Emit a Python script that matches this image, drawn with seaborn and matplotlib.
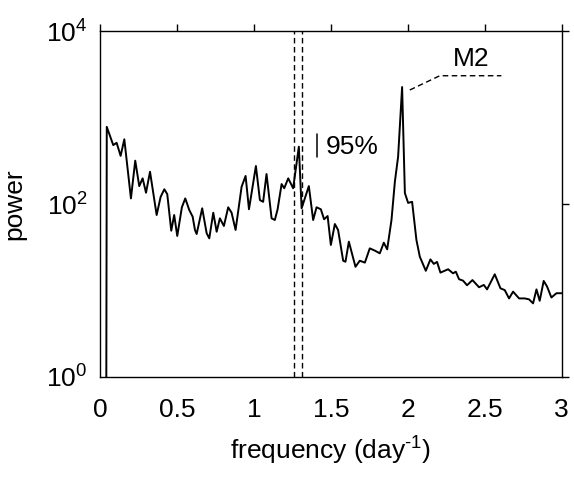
import matplotlib
matplotlib.use("Agg")
import matplotlib.pyplot as plt
import seaborn as sns
import numpy as np
import pandas as pd

# ---- data ----
freq = [0.039, 0.044, 0.086, 0.108, 0.134, 0.158, 0.201, 0.229, 0.255, 0.277,
        0.299, 0.325, 0.368, 0.394, 0.418, 0.437, 0.463, 0.482, 0.502, 0.532,
        0.554, 0.580, 0.602, 0.617, 0.628, 0.664, 0.693, 0.710, 0.736, 0.758,
        0.779, 0.805, 0.833, 0.855, 0.881, 0.920, 0.946, 0.968, 1.013, 1.039,
        1.060, 1.082, 1.115, 1.136, 1.154, 1.180, 1.197, 1.223, 1.255, 1.292,
        1.310, 1.357, 1.385, 1.407, 1.435, 1.456, 1.479, 1.500, 1.526, 1.547,
        1.580, 1.595, 1.617, 1.660, 1.688, 1.721, 1.753, 1.786, 1.818, 1.844,
        1.866, 1.894, 1.916, 1.937, 1.963, 1.981, 2.002, 2.028, 2.056, 2.078,
        2.117, 2.147, 2.169, 2.190, 2.212, 2.262, 2.294, 2.312, 2.333, 2.359,
        2.385, 2.420, 2.463, 2.494, 2.515, 2.565, 2.602, 2.630, 2.658, 2.684,
        2.723, 2.760, 2.788, 2.814, 2.836, 2.857, 2.883, 2.905, 2.933, 2.966,
        2.998]
power = [0.01, 780, 480, 510, 360, 560, 116, 317, 161, 198,
         135, 236, 74.6, 121, 148, 130, 49.1, 74.6, 42.7, 91.6,
         116, 85.3, 71.3, 50.1, 45.0, 89.2, 45.9, 40.1, 79.3, 47.8,
         68.3, 55.7, 91.6, 79.3, 50.1, 158, 211, 86.9, 275, 111,
         106, 222, 68.3, 65.3, 86.9, 170, 152, 198, 152, 460,
         89.2, 161, 65.3, 91.6, 86.9, 66.6, 72.6, 33.6, 58.7, 50.1,
         22.1, 21.5, 36.7, 18.8, 22.1, 21.0, 30.7, 28.9, 26.9, 35.7,
         29.9, 65.3, 181, 352, 2250, 134, 103, 106, 38.4, 24.6,
         16.9, 22.9, 20.3, 21.4, 16.1, 17.6, 15.8, 16.5, 13.5, 13.0,
         11.5, 13.2, 10.9, 11.6, 10.3, 15.4, 10.6, 10.1, 8.1, 9.7,
         8.1, 8.1, 7.9, 7.1, 10.3, 7.6, 12.9, 11.1, 8.3, 9.3,
         9.3]

conf_band = [1.26, 1.31]          # dashed lines around the 1.29 peak
xticks = [0, 0.5, 1, 1.5, 2, 2.5, 3]
xtick_labels = ["0", "0.5", "1", "1.5", "2", "2.5", "3"]
yticks = [1, 100, 10000]

m2_leader_x = [2.013, 2.208, 2.608]
m2_leader_y = [2080, 3040, 3040]
ci_bar_x = [1.407, 1.407]
ci_bar_y = [349, 645]

# ---- style ----
sns.set_style("white")
plt.rcParams['font.family'] = ['Liberation Sans', 'DejaVu Sans']
plt.rcParams['mathtext.fontset'] = 'custom'
plt.rcParams['mathtext.rm'] = 'Liberation Sans'
plt.rcParams['mathtext.it'] = 'Liberation Sans'
plt.rcParams['text.color'] = 'black'
plt.rcParams['axes.labelcolor'] = 'black'
plt.rcParams['xtick.color'] = 'black'
plt.rcParams['ytick.color'] = 'black'

fig = plt.figure(figsize=(5.74, 4.87), dpi=100)
ax = fig.add_axes([100/574, 1-377/487, (561.7-100)/574, (377-31)/487])

df = pd.DataFrame({"freq": freq, "power": power})
sns.lineplot(data=df, x="freq", y="power", color="black", lw=1.4, ax=ax,
             estimator=None, sort=False)

for xv in conf_band:
    ax.axvline(xv, color="black", lw=1.0, ls=(0, (4, 2.5)))

ax.plot(m2_leader_x, m2_leader_y, color="black", lw=1.0, ls=(0, (4, 2.5)))
ax.plot(ci_bar_x, ci_bar_y, color="black", lw=1.1)
ax.text(1.47, 456, "95%", fontsize=19, va="center", ha="left")
ax.text(2.414, 4745, "M2", fontsize=19, va="center", ha="center")

ax.set_yscale("log")
ax.set_xlim(0, 3)
ax.set_ylim(1, 10000)
ax.set_xticks(xticks)
ax.set_xticklabels(xtick_labels)
ax.set_yticks(yticks)
ax.yaxis.set_minor_locator(matplotlib.ticker.NullLocator())
ax.tick_params(axis="both", which="major", direction="out", length=5, width=1,
               labelsize=19, top=True, right=True, color="black")
ax.tick_params(axis="x", pad=10)
ax.tick_params(axis="y", pad=4)
for s in ax.spines.values():
    s.set_color("black")
    s.set_linewidth(1.0)

ax.set_xlabel(r"frequency (day$^{\text{-}1}$)", fontsize=19, labelpad=9)
ax.set_ylabel("power", fontsize=19, labelpad=14)

fig.savefig("out.png", dpi=100)
